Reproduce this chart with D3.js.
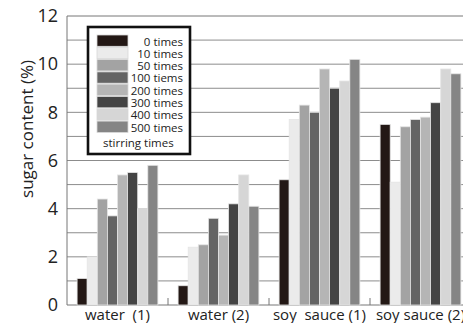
<!DOCTYPE html>
<html><head><meta charset="utf-8">
<script src="https://cdn.jsdelivr.net/npm/d3@7"></script>
<style>body{margin:0;background:#fff;overflow:hidden}svg{display:block;font-family:"Open Sans","Noto Sans",sans-serif}</style>
</head><body>
<svg id="c" width="463" height="323"></svg>
<script>
const categories = ["water  (1)", "water (2)", "soy  sauce (1)", "soy sauce (2)"];
const seriesNames = ["0 times","10 times","50 times","100 tiems","200 times","300 times","400 times","500 times"];
const seriesColors = ["#231815","#ebebeb","#a3a3a3","#646464","#b5b5b5","#444444","#d6d6d6","#858585"];
const water1 = [1.1, 2.0, 4.4, 3.7, 5.4, 5.5, 4.0, 5.8];
const water2 = [0.8, 2.4, 2.5, 3.6, 2.9, 4.2, 5.4, 4.1];
const soy1 = [5.2, 7.7, 8.3, 8.0, 9.8, 9.0, 9.3, 10.2];
const soy2 = [7.5, 5.1, 7.4, 7.7, 7.8, 8.4, 9.8, 9.6];
const yTicks = [0,2,4,6,8,10,12];
const yTitle = "sugar content (%)";
const legendTitle = "stirring times";

const values = [water1, water2, soy1, soy2];
const svg = d3.select("#c");
const L = 67, T = 16, B = 305, R = 471;
const y = d3.scaleLinear().domain([0,12]).range([B, T]);
const x0 = d3.scaleBand().domain(categories).range([L, R]).padding(0);
const x1 = d3.scaleBand().domain(d3.range(seriesNames.length)).range([0, x0.bandwidth()]).paddingInner(0).paddingOuter(1);

// gridlines
svg.append("g").selectAll("line").data(d3.range(1,12)).join("line")
  .attr("x1", L).attr("x2", R).attr("y1", d=>y(d)).attr("y2", d=>y(d))
  .attr("stroke", "#8c8c8c").attr("stroke-width", 1);

// frame
svg.append("path").attr("d", `M${R},${T}H${L}V${B}H${R}`).attr("fill","none").attr("stroke","#777").attr("stroke-width",1);

// group separator ticks
svg.append("g").selectAll("line").data(categories.slice(1)).join("line")
  .attr("x1", d=>x0(d)).attr("x2", d=>x0(d)).attr("y1", B).attr("y2", B-7)
  .attr("stroke","#777").attr("stroke-width",1);

// bars
const g = svg.append("g").selectAll("g").data(categories).join("g")
  .attr("transform", d=>`translate(${x0(d)},0)`);
g.selectAll("rect").data((d,i)=>values[i].map((v,j)=>({v,j}))).join("rect")
  .attr("x", d=>x1(d.j)).attr("width", x1.bandwidth())
  .attr("y", d=>y(d.v)).attr("height", d=>B - y(d.v))
  .attr("fill", d=>seriesColors[d.j]).attr("stroke","#e4e4e4").attr("stroke-width",0.8);

// y axis labels
const yAxis = d3.axisLeft(y).tickValues(yTicks).tickSize(0).tickPadding(9);
const ya = svg.append("g").attr("transform",`translate(${L},0)`).call(yAxis);
ya.select(".domain").remove();
ya.selectAll("text").attr("font-size",18).attr("fill","#222").attr("font-family","'Open Sans',sans-serif");

// x labels
const xAxis = d3.axisBottom(x0).tickSize(0).tickPadding(4);
const xa = svg.append("g").attr("transform",`translate(0,${B})`).call(xAxis);
xa.select(".domain").remove();
xa.selectAll("text").attr("font-size",15).attr("fill","#222").style("white-space","pre").attr("font-family","'Open Sans',sans-serif");

// y title
svg.append("text").attr("transform","translate(33,129) rotate(-90)").attr("text-anchor","middle")
  .attr("font-size",17).attr("fill","#222").text(yTitle);

// legend
const lg = svg.append("g");
lg.append("rect").attr("x",88).attr("y",27).attr("width",102).attr("height",127)
  .attr("fill","#fff").attr("stroke","#111").attr("stroke-width",2.6);
const li = lg.selectAll("g.it").data(seriesNames).join("g").attr("class","it")
  .attr("transform",(d,i)=>`translate(0,${35 + i*12.3})`);
li.append("rect").attr("x",97).attr("y",0).attr("width",31).attr("height",11.3)
  .attr("fill",(d,i)=>seriesColors[i]).attr("stroke","#d8d8d8").attr("stroke-width",0.8);
li.append("text").attr("x",183).attr("y",10.5).attr("text-anchor","end").attr("font-size",11.5).attr("fill","#222").text(d=>d);
lg.append("text").attr("x",103).attr("y",147).attr("font-size",11.5).attr("fill","#222").text(legendTitle);
</script>
</body></html>
